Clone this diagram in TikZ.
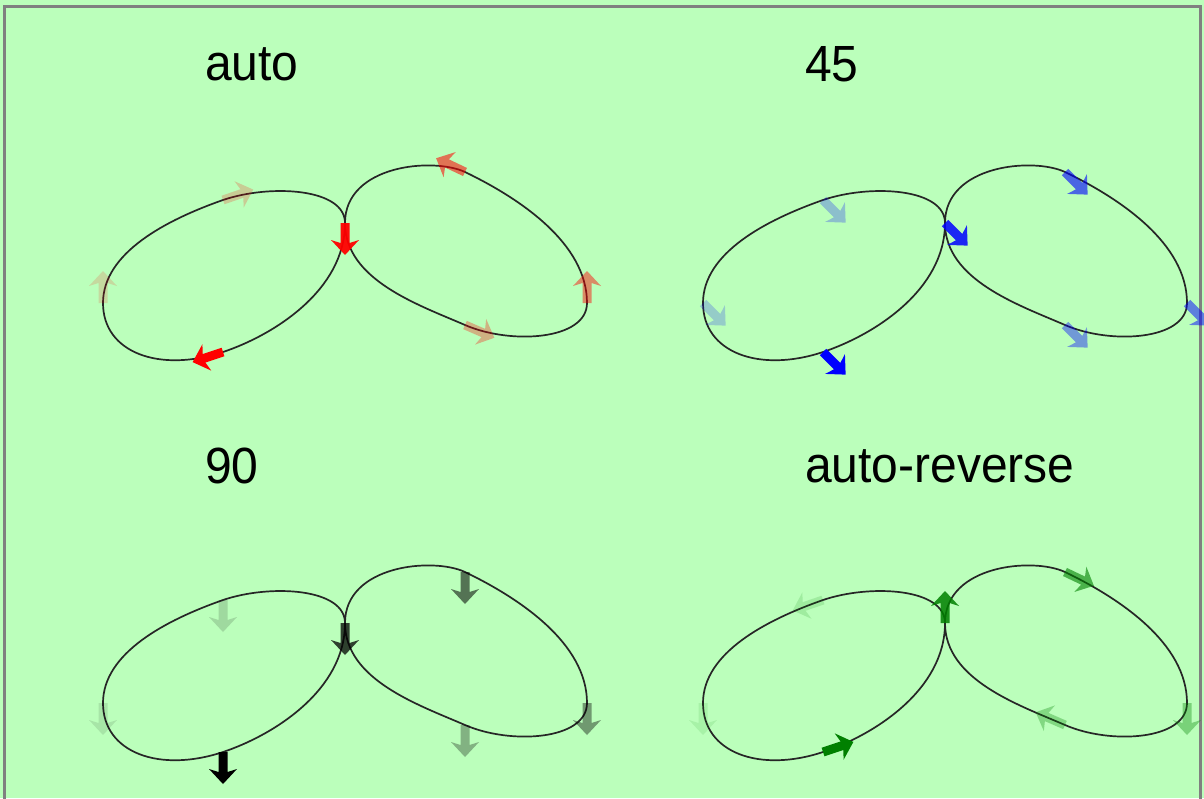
\documentclass[tikz,border=0pt]{standalone}
\usepackage{fontspec}
\setmainfont{Liberation Sans}
\definecolor{bg}{RGB}{187,255,187}
\definecolor{frame}{RGB}{128,128,128}
\definecolor{dkgreen}{RGB}{0,128,0}
\newcommand\mymark[5]{\fill[#4,opacity=#5,shift={(#1,#2)},rotate=#3] (0,-4.5) -- (20,-4.5) -- (17,-14) -- (32,0) -- (17,14) -- (20,4.5) -- (0,4.5) -- cycle;}
\newcommand\lobes[2]{%
  \begin{scope}[shift={(#1,#2)}]
  \draw[curve] (345,223) .. controls (345,290) and (274,335) .. (223,352)
     .. controls (160,373) and (103,353) .. (103,303)
     .. controls (103,253) and (166,220) .. (223,200)
     .. controls (270,184) and (345,188) .. (345,223)
     .. controls (345,280) and (419,305) .. (465,325)
     .. controls (511,345) and (587,340) .. (587,303)
     .. controls (587,243) and (519,198) .. (465,172)
     .. controls (433,157) and (345,165) .. (345,223);
  \end{scope}}
\begin{document}
\begin{tikzpicture}[x=1pt,y=-1pt,
  curve/.style={draw=black!85,line width=1.7pt},
  title/.style={anchor=base west,inner sep=0pt,yscale=1.06,font=\fontsize{48}{52}\selectfont}]
\useasboundingbox (0,0) rectangle (1204,798);
\fill[bg] (0,0) rectangle (1204,798);
\draw[frame,line width=3pt] (4.5,800) -- (4.5,6.5) -- (1200.5,6.5) -- (1200.5,800);
% titles
\node[title] (t1) at (205,80) {auto};
\node[title] (t2) at (805,81) {45};
\node[title] (t3) at (205,483) {90};
\node[title] (t4) at (805,482) {auto-reverse};
% curves
\lobes{0}{0}
\lobes{600}{0}
\lobes{0}{400}
\lobes{600}{400}
% panel 1: auto (red)
\mymark{223}{352}{198.4}{red}{1}
\mymark{103}{303}{90}{red}{0.15}
\mymark{223}{200}{19}{red}{0.2}
\mymark{345}{223}{-90}{red}{0.95}
\mymark{465}{325}{-23.5}{red}{0.3}
\mymark{587}{303}{90}{red}{0.45}
\mymark{465}{172}{154.5}{red}{0.55}
% panel 2: 45 (blue)
\mymark{823}{352}{-45}{blue}{1}
\mymark{703}{303}{-45}{blue}{0.2}
\mymark{823}{200}{-45}{blue}{0.25}
\mymark{945}{223}{-45}{blue}{0.85}
\mymark{1065}{325}{-45}{blue}{0.4}
\mymark{1187}{303}{-45}{blue}{0.5}
\mymark{1065}{172}{-45}{blue}{0.6}
% panel 3: 90 (black)
\mymark{223}{752}{-90}{black}{1}
\mymark{103}{703}{-90}{black}{0.1}
\mymark{223}{600}{-90}{black}{0.15}
\mymark{345}{623}{-90}{black}{0.75}
\mymark{465}{725}{-90}{black}{0.3}
\mymark{587}{703}{-90}{black}{0.4}
\mymark{465}{572}{-90}{black}{0.55}
% panel 4: auto-reverse (green)
\mymark{823}{752}{18.4}{dkgreen}{1}
\mymark{703}{703}{270}{dkgreen}{0.1}
\mymark{823}{600}{199}{dkgreen}{0.15}
\mymark{945}{623}{90}{dkgreen}{0.85}
\mymark{1065}{725}{156.5}{dkgreen}{0.3}
\mymark{1187}{703}{270}{dkgreen}{0.35}
\mymark{1065}{572}{-25.5}{dkgreen}{0.6}
\end{tikzpicture}
\end{document}
